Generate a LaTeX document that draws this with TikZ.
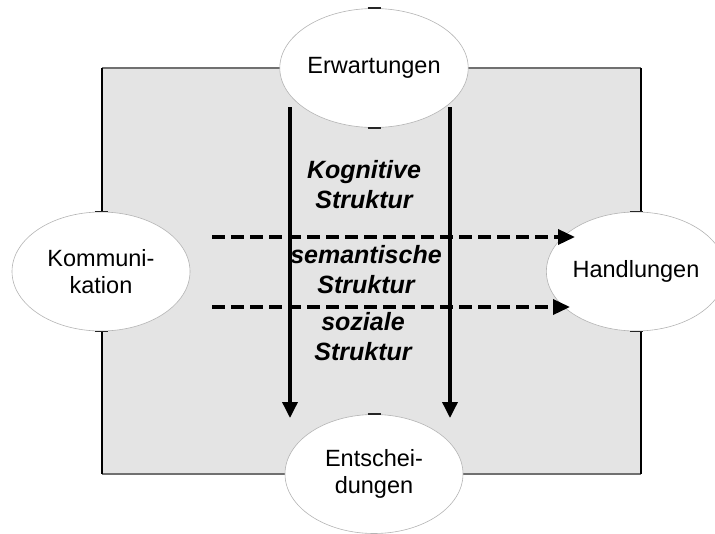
\documentclass[tikz,border=0pt]{standalone}
\usepackage{fontspec}
\setmainfont{Liberation Sans}
\usetikzlibrary{shapes.geometric,arrows.meta}
\definecolor{panel}{HTML}{E4E4E4}
\definecolor{rim}{HTML}{B4B4B4}
\definecolor{topedge}{HTML}{707070}
\begin{document}
\begin{tikzpicture}[x=1pt,y=-1pt,
  blob/.style={ellipse,draw=rim,line width=0.6pt,fill=white,minimum width=178pt,
    minimum height=119pt,inner sep=0pt,align=center,
    font=\fontsize{23.5pt}{27pt}\selectfont},
  tick/.style={line width=1.5pt,black!85},
  layer/.style={align=center,font=\fontsize{25pt}{30pt}\selectfont\bfseries\itshape},
  flow/.style={line width=3.5pt,-{Triangle[length=16pt,width=15pt]}},
  relay/.style={line width=3.5pt,dash pattern=on 13pt off 6pt,
    -{Triangle[length=17pt,width=15pt]}}]
\useasboundingbox (0,0) rectangle (715,533);
\clip (0,0) rectangle (715,533);
% background panel
\fill[panel] (102,68) rectangle (641,474);
\draw[topedge,line width=1.4pt] (102,68) -- (641,68);
\draw[topedge,line width=1.4pt] (102,474) -- (641,474);
\draw[black,line width=1.2pt] (102,68) -- (102,474);
\draw[black,line width=1.2pt] (641,68) -- (641,474);
% the four ellipses
\node[blob] (erw) at (374,68) {Erwartungen};
\node[blob] (kom) at (101,271.5) {Kommuni-\\kation};
\node[blob] (hand) at (636,271.5) {Handlungen};
\node[blob] (ent) at (374,474) {Entschei-\\dungen};
\foreach \e in {erw,kom,hand}{
  \draw[tick] ([xshift=-6.5pt]\e.north) -- ([xshift=6.5pt]\e.north);
  \draw[tick] ([xshift=-6.5pt]\e.south) -- ([xshift=6.5pt]\e.south);
}
\draw[tick] ([xshift=-6.5pt]ent.north) -- ([xshift=6.5pt]ent.north);
% structure labels
\node[layer] (kog) at (364,185) {Kognitive\\Struktur};
\node[layer] (sem) at (366,270) {semantische\\Struktur};
\node[layer] (soz) at (363,337) {soziale\\Struktur};
% vertical flows
\coordinate (v1s) at (290,107);
\coordinate (v1e) at (290,418);
\coordinate (v2s) at (450,107);
\coordinate (v2e) at (450,418);
\draw[flow] (v1s) -- (v1e);
\draw[flow] (v2s) -- (v2e);
% horizontal dashed flows
\coordinate (h1s) at (212,237);
\coordinate (h1e) at (575,237);
\coordinate (h2s) at (212,307);
\coordinate (h2e) at (570,307);
\draw[relay] (h1s) -- (h1e);
\draw[relay] (h2s) -- (h2e);
\end{tikzpicture}
\end{document}
